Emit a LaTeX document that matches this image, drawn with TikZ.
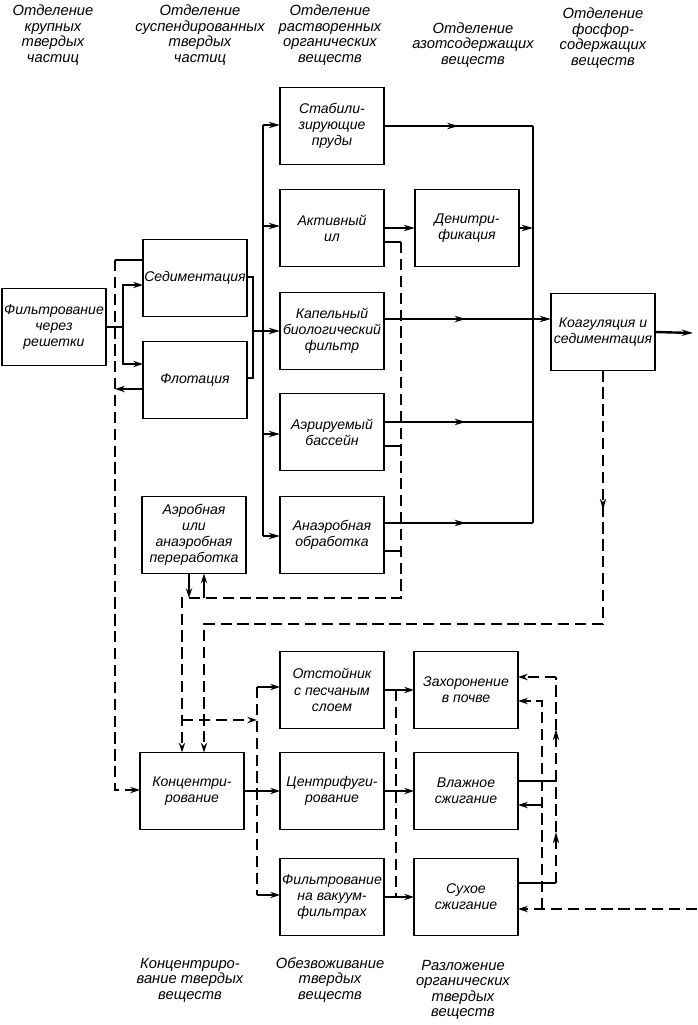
\documentclass[tikz,border=0pt]{standalone}
\usepackage{fontspec}
\setmainfont{Liberation Sans}
\usetikzlibrary{arrows.meta,calc,decorations.markings}

\begin{document}
\begin{tikzpicture}[x=0.025cm,y=-0.025cm]
        \tikzset{box/.style = {shape=rectangle,draw,line width=1.1pt,minimum width=2.6cm,minimum height=1.925cm,inner sep=1pt,outer sep=0pt,align=center,font=\itshape\fontsize{10}{11.5}\selectfont}}
        \tikzset{heading/.style = {align=center,font=\itshape\fontsize{10.5}{11}\selectfont}}
        \tikzset{pipe/.style = {line width=1.7pt}}
        \tikzset{stub/.style = {line width=1.2pt}}
        \tikzset{flow/.style = {-{Stealth[length=8pt,width=4.5pt,inset=2.5pt]},line width=1.7pt}}
        \tikzset{feed/.style = {-{Stealth[length=7pt,width=4.5pt,inset=2.5pt]},line width=1.2pt}}
        \tikzset{sludge/.style = {-{Stealth[length=7pt,width=4.5pt,inset=2.5pt]},line width=1.2pt,dash pattern=on 8pt off 4pt}}
        \tikzset{midarrow/.style = {postaction={decorate},decoration={markings,mark=at position #1 with {\arrow{Stealth[length=8pt,width=4.5pt,inset=2.5pt]}}}}}

        \useasboundingbox (0,0) rectangle (697,1025);

        % headings
        \node[heading] (h1) at (53,35) {Отделение\\крупных\\твердых\\частиц};
        \node[heading] (h2) at (200,35) {Отделение\\суспендированных\\твердых\\частиц};
        \node[heading] (h3) at (330,35) {Отделение\\растворенных\\органических\\веществ};
        \node[heading] (h4) at (473,45) {Отделение\\азотсодержащих\\веществ};
        \node[heading] (h5) at (603,38) {Отделение\\фосфор-\\содержащих\\веществ};
        \node[heading] (f1) at (190,980) {Концентриро-\\вание твердых\\веществ};
        \node[heading] (f2) at (330,980) {Обезвоживание\\твердых\\веществ};
        \node[heading] (f3) at (463,990) {Разложение\\органических\\твердых\\веществ};

        % boxes
        \node[box] (filt) at (54,327) {Фильтрование\\через\\решетки};
        \node[box] (sed) at (195,278) {Седиментация};
        \node[box] (flot) at (195,380) {Флотация};
        \node[box] (stab) at (332,126) {Стабили-\\зирующие\\пруды};
        \node[box] (act) at (332,228) {Активный\\ил};
        \node[box] (denit) at (467,228) {Денитри-\\фикация};
        \node[box] (drip) at (332,331) {Капельный\\биологический\\фильтр};
        \node[box] (aer) at (332,432) {Аэрируемый\\бассейн};
        \node[box] (anaer) at (332,535) {Анаэробная\\обработка};
        \node[box] (coag) at (603,332) {Коагуляция и\\седиментация};
        \node[box] (aerob) at (194,535) {Аэробная\\или\\анаэробная\\переработка};
        \node[box] (conc) at (192,791) {Концентри-\\рование};
        \node[box] (sand) at (332,690) {Отстойник\\с песчаным\\слоем};
        \node[box] (centr) at (332,791) {Центрифуги-\\рование};
        \node[box] (vac) at (332,897) {Фильтрование\\на вакуум-\\фильтрах};
        \node[box] (bur) at (466,690) {Захоронение\\в почве};
        \node[box] (wet) at (466,791) {Влажное\\сжигание};
        \node[box] (dry) at (466,897) {Сухое\\сжигание};

        % liquid flow
        \coordinate (fork) at (123,327);
        \coordinate (fork up) at (123,285);
        \coordinate (fork down) at (123,364);
        \draw[stub] (filt.east) -- (fork);
        \draw[feed] (fork) -- (fork up) -- (fork up -| sed.west);
        \draw[feed] (fork) -- (fork down) -- (fork down -| flot.west);

        \coordinate (sed out) at (253,277);
        \coordinate (flot out) at (253,378);
        \coordinate (merge) at (253,331);
        \draw[stub] (sed out -| sed.east) -- (sed out) -- (flot out) -- (flot out -| flot.east);
        \draw[flow] (merge) -- (merge -| drip.west);

        \coordinate (bus top) at (263,125);
        \coordinate (bus bottom) at (263,536);
        \draw[pipe] (bus top) -- (bus bottom);
        \foreach \n/\y in {stab/125,act/226,aer/434,anaer/536}{
            \coordinate (in) at (263,\y);
            \draw[flow] (in) -- (in -| \n.west);
        }

        \coordinate (col top) at (533,126);
        \coordinate (col bottom) at (533,523);
        \draw[pipe] (col top) -- (col bottom);
        \draw[pipe,midarrow=0.5] (stab.east) -- (col top);
        \draw[flow] (act.east) -- (denit.west);
        \draw[flow] (denit.east) -- (denit.east -| col top);
        \foreach \n/\y in {drip/319,aer/422,anaer/523}{
            \coordinate (out) at (533,\y);
            \draw[pipe,midarrow=0.55] (out -| \n.east) -- (out);
        }
        \coordinate (coag in) at (533,319);
        \coordinate (effluent) at (693,333);
        \draw[flow] (coag in) -- (coag in -| coag.west);
        \draw[flow] (coag.east) -- (effluent);

        % sludge
        \coordinate (sed sludge) at (115,260);
        \coordinate (left corner) at (115,790);
        \coordinate (flot sludge) at (115,389);
        \draw[pipe] (sed sludge -| sed.west) -- (sed sludge);
        \draw[sludge] (sed sludge) -- (left corner) -- (left corner -| conc.west);
        \draw[feed] (flot sludge -| flot.west) -- (flot sludge);

        \coordinate (act sludge) at (401,242);
        \coordinate (act corner) at (401,598);
        \coordinate (aerob corner) at (182,598);
        \draw[stub] (act sludge -| act.east) -- (act sludge);
        \draw[sludge] (act sludge) -- (act corner) -- (aerob corner) -- (aerob corner |- conc.north);
        \foreach \n/\y in {aer/446,anaer/551}{
            \coordinate (st) at (401,\y);
            \draw[stub] (st -| \n.east) -- (st);
        }
        \coordinate (aerob out) at (189,598);
        \coordinate (aerob in) at (204,598);
        \draw[feed] (aerob out |- aerob.south) -- (aerob out);
        \draw[feed] (aerob in) -- (aerob in |- aerob.south);

        \coordinate (coag corner) at (603,624);
        \coordinate (conc corner) at (204,624);
        \draw[sludge,-,midarrow=0.55] (coag.south) -- (coag corner);
        \draw[sludge] (coag corner) -- (conc corner) -- (conc corner |- conc.north);

        \coordinate (split) at (182,720);
        \coordinate (to sand) at (257,687);
        \coordinate (to vac) at (257,895);
        \draw[sludge] (split) -- (split -| to sand);
        \draw[sludge,-] (to sand) -- (to vac);
        \draw[feed] (to sand) -- (to sand -| sand.west);
        \draw[feed] (to vac) -- (to vac -| vac.west);
        \draw[feed] (conc.east) -- (centr.west);

        \foreach \a/\b in {sand/bur,centr/wet,vac/dry}
            \draw[feed] (\a.east) -- (\b.west);
        \coordinate (by top) at (396,690);
        \coordinate (by bottom) at (396,897);
        \draw[sludge,-] (by top) -- (by bottom);

        \coordinate (ret top) at (556,677);
        \coordinate (ret mid) at (556,781);
        \coordinate (ret bottom) at (556,883);
        \draw[stub] (ret mid -| wet.east) -- (ret mid);
        \draw[stub] (ret bottom -| dry.east) -- (ret bottom);
        \draw[sludge,-,midarrow=0.5] (ret bottom) -- (ret mid);
        \draw[sludge,-,midarrow=0.5] (ret mid) -- (ret top);
        \draw[sludge] (ret top) -- (ret top -| bur.east);

        \coordinate (ext) at (697,909);
        \coordinate (feed bottom) at (542,909);
        \coordinate (feed top) at (542,701);
        \coordinate (feed mid) at (542,805);
        \draw[sludge] (ext) -- (ext -| dry.east);
        \draw[sludge] (feed bottom) -- (feed top) -- (feed top -| bur.east);
        \draw[feed] (feed mid) -- (feed mid -| wet.east);

    \end{tikzpicture}
\end{document}
